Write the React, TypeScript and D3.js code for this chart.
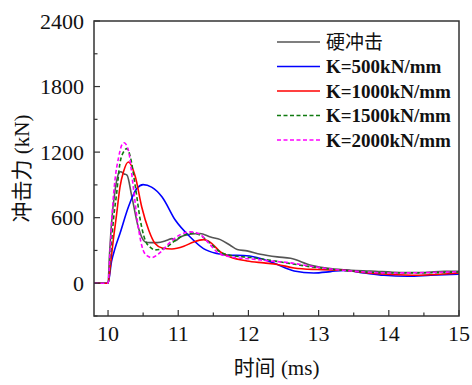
import React from "react";
import * as d3 from "d3";

const seriesNames = ["硬冲击", "K=500kN/mm", "K=1000kN/mm", "K=1500kN/mm", "K=2000kN/mm"];
const seriesColors = ["#555555", "#0000ff", "#ff0000", "#0f7a0f", "#ff00ff"];
const seriesDash = ["", "", "", "4,2.5", "4,2.5"];

const hardT = [9.8, 10.0, 10.02, 10.05, 10.1, 10.16, 10.18, 10.23, 10.27, 10.34, 10.43, 10.53, 10.6, 10.7, 10.84, 10.91, 10.96, 11.03, 11.17, 11.31, 11.46, 11.6, 11.74, 11.84, 11.98, 12.17, 12.41, 12.6, 12.89, 13.17, 13.46, 13.74, 14.17, 14.5, 14.79, 15.0];
const hardF = [0, 0, 250, 550, 850, 1015, 1020, 1000, 990, 790, 515, 378, 372, 372, 393, 408, 390, 423, 448, 455, 423, 399, 347, 308, 296, 265, 241, 228, 165, 134, 119, 112, 98, 98, 110, 110];

const k500T = [9.8, 10.0, 10.05, 10.1, 10.17, 10.29, 10.41, 10.5, 10.62, 10.77, 10.96, 11.17, 11.36, 11.55, 11.74, 11.93, 12.12, 12.36, 12.65, 12.93, 13.17, 13.36, 13.65, 13.93, 14.27, 14.6, 15.0];
const k500F = [0, 0, 200, 320, 455, 698, 866, 902, 880, 790, 576, 423, 317, 272, 256, 254, 236, 185, 112, 94, 106, 118, 94, 73, 64, 73, 82];

const k1000T = [9.8, 10.0, 10.04, 10.08, 10.12, 10.17, 10.22, 10.29, 10.39, 10.48, 10.58, 10.67, 10.77, 10.91, 11.08, 11.22, 11.36, 11.48, 11.6, 11.74, 11.98, 12.22, 12.41, 12.65, 12.98, 13.36, 13.7, 14.03, 14.41, 14.73, 15.0];
const k1000F = [0, 0, 200, 423, 620, 880, 1020, 1110, 972, 698, 485, 363, 323, 313, 338, 378, 399, 363, 286, 241, 204, 186, 172, 140, 125, 119, 94, 80, 73, 82, 94];

const k1500T = [9.8, 10.0, 10.04, 10.08, 10.12, 10.17, 10.22, 10.27, 10.32, 10.39, 10.46, 10.53, 10.6, 10.67, 10.74, 10.81, 10.93, 11.03, 11.22, 11.31, 11.46, 11.6, 11.74, 12.03, 12.31, 12.6, 12.89, 13.17, 13.46, 14.03, 14.5, 15.0];
const k1500F = [0, 0, 300, 600, 810, 1100, 1200, 1232, 1150, 880, 576, 393, 330, 305, 310, 320, 378, 423, 460, 440, 363, 286, 256, 235, 210, 180, 150, 128, 112, 94, 95, 103];

const k2000T = [9.8, 10.0, 10.03, 10.06, 10.1, 10.15, 10.2, 10.23, 10.29, 10.36, 10.43, 10.5, 10.56, 10.62, 10.74, 10.89, 11.03, 11.17, 11.31, 11.44, 11.58, 11.74, 12.03, 12.31, 12.6, 12.89, 13.17, 13.46, 14.03, 14.5, 15.0];
const k2000F = [0, 0, 300, 650, 950, 1150, 1270, 1285, 1216, 880, 515, 302, 250, 235, 280, 378, 445, 470, 448, 363, 272, 241, 223, 204, 186, 155, 130, 112, 94, 97, 105];

const seriesT = [hardT, k500T, k1000T, k1500T, k2000T];
const seriesF = [hardF, k500F, k1000F, k1500F, k2000F];

const xTicks = [10, 11, 12, 13, 14, 15];
const xMinor = [10.5, 11.5, 12.5, 13.5, 14.5];
const yTicks = [0, 600, 1200, 1800, 2400];
const yMinor = [-300, 300, 900, 1500, 2100];

const W = 472, H = 385;
const L = 94, R = 459, T = 21, B = 316;
const serif = "Liberation Serif";
const cjk = "Noto Sans CJK SC";

export default function App() {
  const x = d3.scaleLinear().domain([9.8, 15]).range([L, R]);
  const y = d3.scaleLinear().domain([-300, 2400]).range([B, T]);
  const line = d3.line<[number, number]>().x(d => x(d[0])).y(d => y(d[1])).curve(d3.curveMonotoneX);
  const axisColor = "#333";
  const legendY = [42, 66.5, 91, 115.5, 140];

  return (
    <svg width={W} height={H} style={{ position: "absolute", left: 0, top: 0, background: "#fff" }}>
      <defs>
        <clipPath id="plot"><rect x={L} y={T} width={R - L} height={B - T} /></clipPath>
      </defs>
      <g clipPath="url(#plot)">
        {seriesT.map((ts, i) => (
          <path key={i} d={line(ts.map((t, j) => [t, seriesF[i][j]]) as [number, number][]) || ""}
            fill="none" stroke={seriesColors[i]} strokeWidth={1.6} strokeDasharray={seriesDash[i]} />
        ))}
      </g>
      <rect x={L} y={T} width={R - L} height={B - T} fill="none" stroke={axisColor} strokeWidth={1.5} />
      {xTicks.map(v => (
        <g key={"x" + v}>
          <line x1={x(v)} x2={x(v)} y1={B} y2={B - 6} stroke={axisColor} strokeWidth={1.2} />
          <text x={x(v)} y={341} textAnchor="middle" style={{ fontFamily: serif }} fontSize={22} fill="#111">{v}</text>
        </g>
      ))}
      {xMinor.map(v => (
        <line key={"xm" + v} x1={x(v)} x2={x(v)} y1={B} y2={B - 3.5} stroke={axisColor} strokeWidth={1.2} />
      ))}
      {yTicks.map(v => (
        <g key={"y" + v}>
          <line x1={L} x2={L + 6} y1={y(v)} y2={y(v)} stroke={axisColor} strokeWidth={1.2} />
          <text x={84} y={y(v) + 7.5} textAnchor="end" style={{ fontFamily: serif }} fontSize={22} fill="#111">{v}</text>
        </g>
      ))}
      {yMinor.map(v => (
        <line key={"ym" + v} x1={L} x2={L + 3.5} y1={y(v)} y2={y(v)} stroke={axisColor} strokeWidth={1.2} />
      ))}
      <text x={(L + R) / 2} y={375} textAnchor="middle" fontSize={21} fill="#111">
        <tspan style={{ fontFamily: cjk }}>时间</tspan>
        <tspan style={{ fontFamily: serif }}> (ms)</tspan>
      </text>
      <text transform={`translate(29, ${(T + B) / 2}) rotate(-90)`} textAnchor="middle" fontSize={21} fill="#111">
        <tspan style={{ fontFamily: cjk }}>冲击力</tspan>
        <tspan style={{ fontFamily: serif }}> (kN)</tspan>
      </text>
      {seriesNames.map((n, i) => (
        <g key={"lg" + i}>
          <line x1={277} x2={320} y1={legendY[i]} y2={legendY[i]} stroke={seriesColors[i]} strokeWidth={1.6} strokeDasharray={seriesDash[i]} />
          <text x={326} y={legendY[i] + 6.5} style={{ fontFamily: i === 0 ? cjk : serif }} fontWeight={i === 0 ? "normal" : "bold"} fontSize={19} fill="#111">{n}</text>
        </g>
      ))}
    </svg>
  );
}
